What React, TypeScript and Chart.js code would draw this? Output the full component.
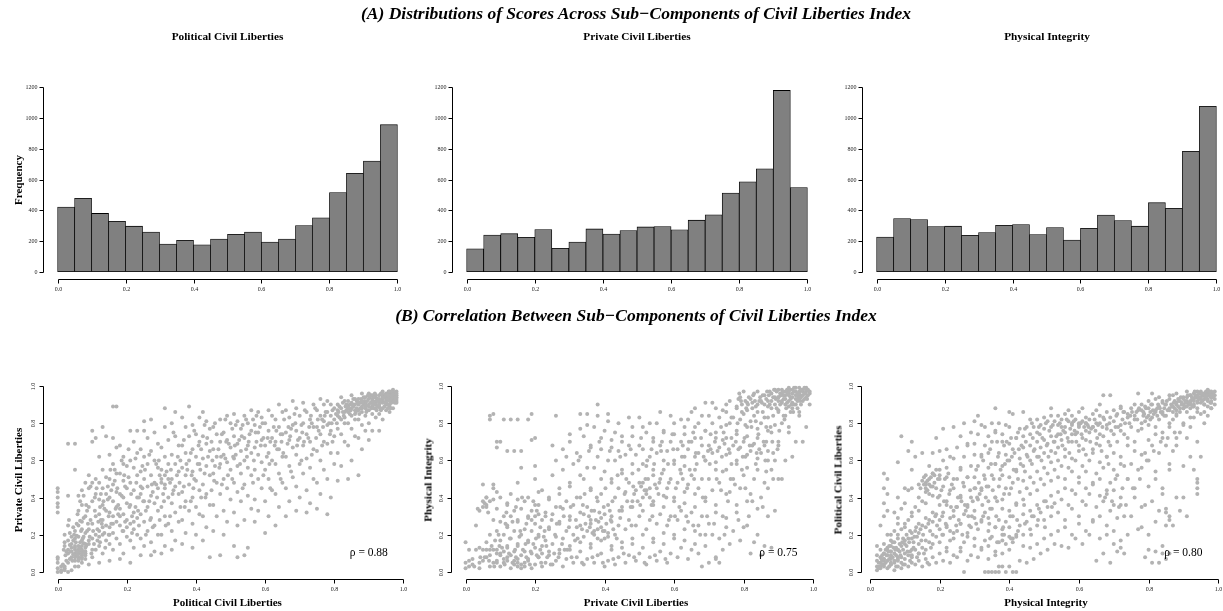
import React, { useEffect, useRef } from "react";
import { Chart, registerables } from "chart.js";
Chart.register(...registerables);

// ---------- DATA ----------
const binCenters = [0.025, 0.075, 0.125, 0.175, 0.225, 0.275, 0.325, 0.375, 0.425, 0.475, 0.525, 0.575, 0.625, 0.675, 0.725, 0.775, 0.825, 0.875, 0.925, 0.975];
const politicalCounts = [420, 477, 379, 328, 296, 258, 180, 204, 175, 212, 243, 258, 193, 212, 300, 350, 515, 640, 720, 957];
const privateCounts = [148, 238, 247, 223, 274, 152, 193, 278, 245, 267, 291, 293, 273, 335, 370, 512, 585, 670, 1180, 547];
const physicalCounts = [225, 346, 339, 293, 296, 236, 254, 302, 306, 241, 287, 206, 282, 368, 333, 296, 449, 412, 784, 1077];

const histYTicks = [0, 200, 400, 600, 800, 1000, 1200];
const histYTickLabels = ["0", "200", "400", "600", "800", "1000", "1200"];
const unitTicks = [0, 0.2, 0.4, 0.6, 0.8, 1.0];
const unitTickLabels = ["0.0", "0.2", "0.4", "0.6", "0.8", "1.0"];

const histTitles = ["Political Civil Liberties", "Private Civil Liberties", "Physical Integrity"];
const scatterXTitles = ["Political Civil Liberties", "Private Civil Liberties", "Physical Integrity"];
const scatterYTitles = ["Private Civil Liberties", "Physical Integrity", "Political Civil Liberties"];
const rhoLabels = ["\u03c1 = 0.88", "\u03c1 = 0.75", "\u03c1 = 0.80"];

// scatter points as (x, y) pairs in hundredths
const politicalVsPrivate = [
  0,0, 1,0, 1,1, 2,1, 0,2, 1,3, 0,5, 0,7, 0,8, 0,32, 0,35, 0,37, 0,40, 0,43, 0,45, 2,2,
  3,0, 4,1, 2,3, 5,3, 3,5, 4,8, 3,10, 5,12, 2,14, 4,15, 3,17, 5,18, 4,19, 2,20, 5,22, 3,25, 3,41, 3,69, 4,13, 2,16, 5,9, 4,11, 3,12, 5,14,
  6,3, 7,5, 5,6, 8,7, 6,8, 7,9, 6,10, 8,11, 7,12, 5,13, 6,14, 8,15, 7,17, 6,19, 8,21, 7,23, 6,25, 7,27, 8,30, 6,33, 7,36, 6,41, 7,44, 8,48, 5,55, 5,69, 7,8, 8,10, 6,12, 7,10, 6,11, 7,14, 8,13, 5,10, 6,7, 7,7, 8,9, 6,6, 5,8, 7,11,
  9,4, 10,8, 8,10, 11,12, 9,15, 10,18, 11,20, 9,23, 10,26, 11,30, 9,35, 10,38, 11,42, 9,45, 10,48, 11,50, 9,52, 10,70, 11,72, 10,76, 9,17, 10,12,
  12,5, 13,10, 12,14, 14,17, 13,20, 12,22, 14,25, 13,28, 12,31, 14,33, 13,36, 12,39, 14,42, 13,45, 12,48, 14,51, 13,55, 12,62, 14,73, 13,78, 13,24, 12,19,
  15,6, 16,12, 15,15, 17,18, 16,21, 15,24, 17,27, 16,30, 15,32, 17,35, 16,38, 15,40, 17,43, 16,47, 15,50, 17,53, 16,58, 15,63, 17,67, 16,72, 16,89, 15,20, 16,26,
  18,7, 19,10, 18,15, 20,19, 19,22, 18,25, 20,28, 19,31, 18,34, 20,37, 19,40, 18,42, 20,45, 19,49, 18,53, 20,57, 19,62, 18,68, 17,89, 19,58, 18,30, 20,24,
  21,5, 22,13, 21,17, 23,20, 22,23, 21,26, 23,29, 22,32, 21,36, 23,40, 22,44, 21,48, 23,52, 22,56, 21,60, 23,64, 22,70, 21,76, 23,76, 22,27,
  24,9, 25,14, 24,18, 26,22, 25,27, 24,31, 26,35, 25,38, 24,42, 26,46, 25,50, 24,54, 26,58, 25,62, 24,66, 26,72, 25,76, 25,81, 24,46,
  27,9, 28,11, 27,16, 29,20, 28,25, 27,29, 29,33, 28,37, 27,41, 29,45, 28,48, 27,52, 29,56, 28,60, 27,65, 29,69, 28,75, 27,82,
  30,10, 31,14, 30,20, 32,26, 31,30, 30,35, 32,40, 31,45, 30,48, 32,50, 31,52, 30,55, 32,58, 31,62, 30,67, 32,71, 31,78, 31,88, 30,50, 31,47,
  33,12, 34,17, 33,22, 35,27, 34,32, 33,37, 35,42, 34,46, 33,50, 35,54, 34,58, 33,63, 35,68, 34,73, 33,80, 34,86,
  36,15, 37,21, 36,28, 38,33, 37,38, 36,43, 38,47, 37,52, 36,56, 38,60, 37,64, 36,68, 38,73, 37,78, 36,83, 38,89,
  39,13, 40,20, 39,26, 41,31, 40,35, 39,40, 41,44, 40,49, 39,54, 41,58, 40,62, 39,66, 41,70, 40,74, 39,79, 41,83,
  42,17, 43,24, 42,30, 44,36, 43,42, 42,47, 44,52, 43,57, 42,61, 44,65, 43,69, 42,73, 44,77, 43,81, 42,86,
  44,8, 45,22, 46,30, 45,36, 47,42, 46,48, 45,53, 47,58, 46,62, 45,66, 47,70, 46,74, 45,78, 47,82,
  47,9, 48,20, 49,27, 48,33, 50,39, 49,45, 48,50, 50,55, 49,59, 48,63, 50,67, 49,71, 48,75, 50,80, 49,84,
  52,8, 51,14, 52,25, 51,32, 53,38, 52,43, 51,48, 53,53, 52,57, 51,61, 53,65, 52,69, 51,73, 53,77, 52,81, 51,85,
  54,9, 55,13, 54,28, 56,34, 55,41, 54,47, 56,52, 55,56, 54,60, 56,64, 55,68, 54,72, 56,76, 55,80, 54,84, 56,87,
  57,27, 58,33, 57,39, 59,45, 58,50, 57,55, 59,59, 58,63, 57,67, 59,71, 58,75, 57,79, 59,83, 58,86,
  60,21, 61,30, 60,38, 62,44, 61,50, 60,55, 62,60, 61,64, 60,68, 62,72, 61,76, 60,80, 62,84, 61,87,
  63,25, 64,35, 63,42, 65,48, 64,53, 63,58, 65,62, 64,66, 63,70, 65,74, 64,78, 63,82, 65,86, 64,90,
  66,30, 67,38, 66,45, 68,51, 67,57, 66,62, 68,67, 67,71, 66,75, 68,79, 67,83, 66,87, 68,92,
  69,33, 70,40, 69,46, 71,53, 70,58, 69,63, 71,68, 70,72, 69,76, 71,80, 70,84, 69,88, 71,91,
  72,32, 73,37, 72,44, 74,50, 73,56, 72,61, 74,66, 73,70, 72,74, 74,78, 73,82, 72,86, 74,90,
  75,34, 76,42, 75,48, 77,55, 76,60, 75,65, 77,70, 76,74, 75,78, 77,81, 76,84, 75,87, 77,90, 76,93,
  78,31, 79,40, 78,50, 80,58, 79,64, 78,69, 80,73, 79,76, 78,79, 80,82, 79,84, 78,86, 80,88, 79,90, 78,92,
  81,49, 82,57, 81,64, 83,70, 82,74, 81,77, 83,80, 82,82, 81,84, 83,86, 82,88, 81,90, 83,92, 82,94, 81,87, 83,83,
  84,50, 85,60, 84,68, 86,73, 85,77, 84,80, 86,82, 85,84, 84,86, 86,87, 85,88, 84,89, 86,90, 85,91, 84,92, 86,93, 85,95, 84,88, 86,85,
  87,52, 88,66, 87,72, 89,76, 88,79, 87,82, 89,84, 88,86, 87,87, 89,88, 88,89, 87,90, 89,91, 88,92, 87,93, 89,94, 88,96, 87,91, 89,89,
  90,71, 91,76, 90,80, 92,83, 91,85, 90,87, 92,88, 91,89, 90,90, 92,91, 91,92, 90,93, 92,94, 91,95, 90,96, 92,90, 91,93,
  93,76, 94,82, 93,85, 95,87, 94,88, 93,89, 95,90, 94,91, 93,92, 95,93, 94,94, 93,95, 95,96, 94,97, 93,90, 95,92, 94,93,
  96,86, 97,88, 96,90, 98,91, 97,92, 96,93, 98,94, 97,95, 96,96, 98,97, 97,98, 96,89, 98,93, 97,96, 96,94, 98,92,
  95,94, 96,95, 97,97, 94,92, 93,91, 96,92, 97,94, 95,95, 98,95, 92,92, 91,91, 93,93, 94,95, 96,97, 95,91, 90,89, 89,90, 88,88, 92,95, 97,93,
];
const politicalVsPrivateMore = [
  1.5,4, 2.5,6, 3.5,7, 4.5,9.5, 5.5,11, 6.5,13, 7.5,15.5, 3.5,14.5, 4.5,17, 5.5,19.5, 2.5,11, 6.5,16, 7.5,19, 8.5,22, 4.5,24, 6.5,27.5, 3.5,21, 5.5,26, 7.5,29, 8.5,33, 9.5,28, 6.5,38, 7.5,41, 9.5,46,
  10.5,15, 11.5,23, 12.5,28, 13.5,34, 14.5,39, 15.5,44, 16.5,49, 17.5,36, 18.5,41, 19.5,46, 20.5,51, 21.5,30, 22.5,35, 23.5,40, 24.5,45, 25.5,33, 26.5,38, 27.5,43, 28.5,47, 29.5,52,
  11.5,17, 13.5,21, 15.5,26, 17.5,31, 19.5,27, 21.5,21, 23.5,25, 25.5,20, 27.5,24, 29.5,28, 12.5,42, 14.5,46, 16.5,55, 18.5,60, 20.5,66, 22.5,61, 24.5,57, 26.5,63, 28.5,58,
  30.5,42, 31.5,54, 32.5,48, 33.5,44, 34.5,52, 35.5,60, 36.5,46, 37.5,55, 38.5,64, 39.5,50, 40.5,58, 41.5,66, 42.5,53, 43.5,62, 44.5,70, 45.5,57, 46.5,66, 47.5,74, 48.5,61, 49.5,69,
  50.5,77, 51.5,63, 52.5,71, 53.5,79, 54.5,66, 55.5,74, 56.5,82, 57.5,70, 58.5,78, 59.5,72, 32.5,30, 35.5,35, 38.5,38, 41.5,40, 44.5,44, 47.5,47, 50.5,50, 53.5,45, 56.5,48, 59.5,52,
  33.5,75, 36.5,71, 39.5,76, 42.5,79, 45.5,80, 48.5,82, 51.5,79, 54.5,82, 57.5,84,
  60.5,62, 61.5,70, 62.5,78, 63.5,66, 64.5,74, 65.5,82, 66.5,69, 67.5,77, 68.5,85, 69.5,71, 70.5,79, 71.5,87, 72.5,72, 73.5,80, 74.5,88, 75.5,76, 76.5,82, 77.5,86, 78.5,80, 79.5,87,
  61.5,45, 64.5,50, 67.5,54, 70.5,60, 73.5,63, 76.5,68, 79.5,70,
  80.5,85, 81.5,89, 82.5,91, 83.5,87, 84.5,90, 85.5,93, 86.5,88, 87.5,91, 88.5,94, 89.5,87, 90.5,91, 91.5,94, 92.5,89, 93.5,92, 94.5,95, 95.5,90, 96.5,93, 97.5,96, 90.5,95, 91.5,88,
  92.5,93, 93.5,96, 94.5,89, 95.5,94, 96.5,97, 97.5,91, 98,96, 89.5,92, 88.5,90, 87.5,88, 86.5,92, 85.5,89, 84.5,85, 83.5,90, 82.5,86, 81.5,83, 93.5,87, 95.5,88, 97.5,94, 96.5,91,
];
const politicalVsPrivateExtra = [
  10.75,33, 11.25,45, 12.75,26, 13.25,38, 14.75,30, 15.25,55, 16.75,34, 17.25,45, 18.75,22, 19.25,52, 20.75,35, 21.25,42, 22.75,48, 23.25,33, 24.75,38, 25.25,55, 26.75,28, 27.25,47, 28.75,40, 29.25,60,
  30.75,38, 31.25,25, 32.75,55, 33.25,42, 34.75,62, 35.25,48, 36.75,35, 37.25,58, 38.75,52, 39.25,45, 40.75,68, 41.25,55, 42.75,40, 43.25,72, 44.75,60, 45.25,49, 46.75,56, 47.25,62, 48.75,70, 49.25,52,
  50.75,62, 51.25,68, 52.75,58, 53.25,73, 54.75,62, 55.25,70, 56.75,60, 57.25,75, 58.75,68, 59.25,80, 60.75,72, 61.25,58, 62.75,68, 63.25,76, 64.75,70, 65.25,64, 66.75,78, 67.25,73, 68.75,80, 69.25,68,
  70.75,75, 71.25,70, 72.75,78, 73.25,84, 74.75,72, 75.25,82, 76.75,78, 77.25,84, 78.75,74, 79.25,80,
  80.75,80, 81.25,86, 82.75,84, 83.25,89, 84.75,87, 85.25,90, 86.75,91, 87.25,85, 88.75,92, 89.25,86, 90.75,88, 91.25,90, 92.75,92, 93.25,88, 94.75,91, 95.25,93, 96.75,95, 97.25,92, 97.75,94, 96.25,88,
  95.75,97, 94.25,94, 93.75,96, 92.25,87, 91.75,96, 90.25,94, 89.75,95, 88.25,91, 87.75,93, 86.25,86,
  1.75,12, 2.25,9, 3.75,11, 4.25,6, 5.75,9, 6.25,13, 7.75,11, 8.25,14, 9.75,10, 4.75,20, 5.25,16, 6.75,22, 7.25,18, 8.75,26, 9.25,19, 10.25,22, 11.75,27, 12.25,16, 13.75,13, 14.75,20,
  3.25,28, 5.75,31, 8.25,36, 10.75,40, 12.25,35,
];

const privateVsPhysical = [
  0,2, 1,3, 0,5, 2,7, 1,12, 0,16, 2,4, 1,6,
  4,2, 5,6, 3,12, 4,13, 3,25, 4,33, 5,35, 6,36, 5,38, 6,40, 5,47, 4,5, 5,12,
  7,3, 8,5, 6,8, 9,10, 7,12, 8,12, 6,16, 7,20, 9,22, 8,28, 6,35, 7,38, 8,39, 6,40, 9,43, 8,47, 7,82, 7,84, 8,85, 9,70, 8,45, 7,9, 9,5, 6,12,
  10,3, 11,5, 9,6, 12,8, 10,10, 11,11, 9,12, 12,14, 10,17, 11,20, 12,24, 10,27, 11,30, 9,34, 12,37, 10,40, 10,70, 9,67, 11,82, 11,7, 10,9,
  13,2, 14,4, 12,6, 15,7, 13,9, 14,11, 12,13, 15,15, 13,18, 14,22, 12,25, 15,28, 13,30, 14,33, 12,36, 15,39, 13,42, 12,65, 14,65, 13,82, 14,6, 15,3,
  16,2, 17,3, 15,5, 18,7, 16,9, 17,11, 15,14, 18,17, 16,20, 17,23, 15,27, 18,30, 16,34, 17,38, 15,48, 16,56, 16,65, 15,82, 17,5, 16,4,
  19,2, 20,4, 18,6, 21,8, 19,10, 20,13, 18,16, 21,19, 19,22, 20,26, 18,29, 21,31, 19,33, 20,36, 18,40, 21,43, 20,50, 20,57, 19,71, 20,72, 18,82, 19,85, 20,30, 19,28,
  22,3, 23,5, 21,8, 24,11, 22,14, 23,17, 21,20, 24,24, 22,28, 23,32, 21,36, 24,40, 22,44, 23,30, 22,10,
  25,4, 26,6, 24,9, 27,12, 25,15, 26,19, 24,23, 27,27, 25,31, 26,35, 24,39, 27,45, 25,52, 26,60, 25,68, 26,84,
  28,3, 29,7, 27,10, 30,14, 28,18, 29,22, 27,26, 30,30, 28,34, 29,38, 27,42, 30,48, 28,55, 29,62, 28,66, 30,74,
  31,5, 32,8, 30,12, 33,16, 31,20, 32,24, 30,28, 33,32, 31,36, 32,40, 30,46, 33,52, 31,58, 32,64, 30,70, 33,77, 33,85,
  34,4, 35,7, 33,11, 36,15, 34,19, 35,22, 33,25, 36,28, 34,31, 35,35, 33,40, 36,45, 34,50, 35,56, 33,62, 36,68, 34,73, 35,79, 35,85,
  37,5, 38,9, 36,13, 39,17, 37,20, 38,23, 36,26, 39,29, 37,33, 38,38, 36,44, 39,50, 37,56, 38,62, 36,67, 39,72, 37,78, 38,84, 38,90, 37,22, 38,18,
  40,3, 41,6, 39,10, 42,14, 40,18, 41,21, 39,24, 42,27, 40,31, 41,36, 39,42, 42,48, 40,54, 41,60, 39,66, 42,71, 40,76, 41,81, 41,85, 40,22, 41,19,
  43,4, 44,8, 42,12, 45,16, 43,20, 44,25, 42,30, 45,35, 43,40, 44,45, 42,50, 45,55, 43,60, 44,65, 42,67, 45,70, 43,75, 44,80,
  46,5, 47,9, 45,13, 48,18, 46,23, 47,28, 45,33, 48,38, 46,43, 47,48, 45,53, 48,58, 46,63, 47,68, 45,73, 48,78, 47,83,
  49,6, 50,10, 48,15, 51,20, 49,25, 50,30, 48,35, 51,40, 49,44, 50,48, 48,53, 51,58, 49,63, 50,68, 48,73, 51,78, 50,83,
  52,4, 53,8, 51,13, 54,18, 52,23, 53,28, 51,33, 54,38, 52,42, 53,45, 51,48, 54,52, 52,57, 53,62, 51,66, 54,70, 52,75, 53,80, 52,44, 53,40,
  55,6, 56,11, 54,16, 57,21, 55,26, 56,31, 54,36, 57,41, 55,45, 56,50, 54,55, 57,60, 55,64, 56,68, 54,72, 57,76, 55,80, 56,86,
  58,5, 59,10, 57,15, 60,20, 58,25, 59,30, 57,35, 60,40, 58,45, 59,50, 57,55, 60,60, 58,65, 59,70, 57,75, 60,80, 59,84,
  61,8, 62,13, 60,18, 63,23, 61,28, 62,33, 60,38, 63,43, 61,48, 62,53, 60,58, 63,62, 61,66, 62,70, 60,74, 63,78, 62,82,
  64,7, 65,12, 63,17, 66,22, 64,27, 65,32, 63,37, 66,42, 64,47, 65,52, 63,57, 66,62, 64,66, 65,70, 63,74, 66,78, 64,82, 65,86,
  68,3, 67,10, 66,15, 69,20, 67,25, 68,30, 66,35, 69,40, 67,45, 68,50, 66,55, 69,60, 67,64, 68,68, 66,72, 69,76, 67,80, 68,84, 66,88, 69,91,
  70,5, 72,8, 69,14, 71,20, 70,26, 72,32, 69,38, 71,44, 70,50, 72,55, 69,60, 71,64, 70,68, 72,72, 69,76, 71,80, 70,84, 72,88, 71,91,
  73,5, 72,7, 74,12, 73,18, 75,24, 74,30, 72,36, 75,42, 73,48, 74,54, 72,59, 75,63, 73,67, 74,71, 72,75, 75,79, 73,83, 74,87, 75,90,
  76,15, 77,22, 75,29, 78,36, 76,43, 77,50, 75,55, 78,60, 76,64, 77,68, 75,72, 78,76, 76,80, 77,83, 75,86, 78,89, 76,92,
  79,17, 80,24, 78,32, 81,38, 79,45, 80,52, 78,58, 81,63, 79,67, 80,70, 78,74, 81,78, 79,82, 80,85, 78,88, 81,91, 79,94, 80,97,
  82,10, 83,16, 81,25, 84,34, 82,42, 83,50, 81,56, 84,61, 82,65, 83,69, 81,73, 84,77, 82,81, 83,84, 81,87, 84,90, 82,93, 83,96,
  85,9, 86,14, 84,20, 87,30, 85,40, 86,48, 84,55, 87,60, 85,64, 86,68, 84,72, 87,76, 85,80, 86,83, 84,86, 87,89, 85,92, 86,95, 84,97,
  88,13, 89,33, 87,45, 90,50, 88,55, 89,60, 87,65, 90,70, 88,75, 89,79, 87,83, 90,86, 88,88, 89,90, 87,92, 90,94, 88,96, 89,98,
  91,50, 92,60, 90,68, 93,75, 91,80, 92,84, 90,87, 93,89, 91,91, 92,93, 90,94, 93,95, 91,96, 92,97, 90,98, 93,99,
  94,62, 95,70, 93,78, 96,84, 94,88, 95,90, 93,92, 96,93, 94,94, 95,95, 93,96, 96,97, 94,98, 95,99,
  97,70, 98,78, 96,86, 99,90, 97,92, 98,94, 96,95, 99,96, 97,97, 98,98, 96,99, 99,97,
  91,92, 92,95, 93,97, 94,96, 95,97, 96,96, 97,98, 98,97, 95,93, 94,91, 92,90, 90,92, 89,94, 91,98, 97,95, 98,99, 88,92, 86,90,
];
const privateVsPhysicalMore = [
  2.5,3, 5.5,8, 7.5,14, 10.5,13, 12.5,10, 13.5,5, 14.5,8, 16.5,12, 17.5,8, 18.5,4, 19.5,15, 20.5,9, 21.5,24, 22.5,19, 11.5,26, 13.5,27, 15.5,19, 17.5,26, 19.5,38, 20.5,33,
  14.5,35, 6.5,32, 5.5,37, 3.5,34, 8.5,17, 9.5,20, 21.5,12, 23.5,8, 25.5,10, 24.5,4,
  31.5,17, 34.5,26, 36.5,21, 37.5,28, 39.5,22, 40.5,26, 42.5,23, 43.5,18, 38.5,32, 35.5,30, 33.5,23, 41.5,33, 44.5,29, 46.5,38, 48.5,42, 50.5,46, 52.5,50, 54.5,47, 55.5,42, 51.5,44,
  53.5,36, 49.5,38, 47.5,35, 56.5,53, 58.5,48, 60.5,45, 62.5,50, 64.5,55, 66.5,58, 68.5,62, 70.5,66, 58.5,28, 61.5,35, 63.5,30, 65.5,25, 67.5,20, 69.5,30,
  32.5,60, 35.5,65, 38.5,70, 41.5,65, 44.5,62, 47.5,66, 50.5,72, 53.5,66, 56.5,70, 59.5,74, 62.5,68, 65.5,75,
  28.5,12, 30.5,8, 33.5,5, 36.5,8, 39.5,5, 42.5,7, 45.5,10, 48.5,8, 51.5,5, 54.5,9, 57.5,7,
  72.5,65, 74.5,69, 76.5,72, 78.5,66, 80.5,62, 82.5,68, 84.5,66, 86.5,70, 88.5,64, 76.5,58, 79.5,55, 83.5,58, 86.5,54, 88.5,50, 77.5,47, 80.5,45, 82.5,38, 85.5,35, 73.5,44, 75.5,38,
  78.5,28, 81.5,30, 71.5,26, 74.5,20, 70.5,74, 73.5,78, 76.5,83, 79.5,86, 82.5,88, 85.5,86, 88.5,84, 80.5,79, 83.5,81, 86.5,78,
  89.5,88, 90.5,90, 91.5,93, 92.5,91, 93.5,94, 94.5,97, 95.5,96, 96.5,98, 97.5,99, 98.5,98, 92.5,98, 93.5,93, 94.5,90, 95.5,92, 96.5,94, 97.5,96, 98.5,95, 91.5,95, 90.5,96, 89.5,97,
  88.5,94, 87.5,90, 86.5,93, 85.5,95, 84.5,92, 83.5,89, 82.5,91, 81.5,94, 80.5,92, 79.5,90, 78.5,93, 87.5,97, 94.5,99, 97.5,93, 96.5,90, 95.5,88, 93.5,86, 91.5,84,
];
const privateVsPhysicalExtra = [
  25.75,20, 26.25,26, 27.75,15, 28.25,30, 29.75,24, 30.25,35, 31.75,28, 32.25,18, 33.75,36, 34.25,42, 35.75,24, 36.25,33, 37.75,40, 38.25,27, 39.75,35, 40.25,45, 41.75,28, 42.25,38, 43.75,52, 44.25,33,
  45.75,42, 46.25,50, 47.75,25, 48.25,46, 49.75,55, 50.25,36, 51.75,50, 52.25,60, 53.75,30, 54.25,58, 55.75,48, 56.25,65, 57.75,40, 58.25,58, 59.75,66, 60.25,30, 61.75,55, 62.25,62, 63.75,45, 64.25,70,
  65.75,50, 66.25,64, 67.75,72, 68.25,40, 69.75,65, 70.25,58, 71.75,70, 72.25,50, 73.75,62, 74.25,75, 75.75,66, 76.25,50, 77.75,70, 78.25,80, 79.75,62, 80.25,72, 81.75,68, 82.25,78, 83.75,64, 84.25,74,
  85.75,70, 86.25,60, 87.75,78, 88.25,70, 89.75,66, 90.25,76, 91.75,82, 92.25,88, 93.75,90, 94.25,86, 95.75,94, 96.25,92, 97.75,96, 98.25,93, 93.25,98, 92.75,96, 91.25,97, 90.75,95, 89.25,93, 88.75,98,
  87.25,95, 86.75,97, 85.25,91, 84.75,94, 83.25,92, 82.75,95, 81.25,90, 80.75,88, 79.25,92, 78.75,96,
  4.25,8, 6.75,6, 8.25,3, 9.75,14, 11.25,4, 12.75,18, 14.25,12, 15.75,22, 17.25,15, 18.75,11, 20.25,18, 21.75,5, 22.75,22, 23.25,14, 24.75,28, 26.75,8, 27.25,35, 29.25,12, 11.75,32, 16.25,40,
];

const physicalVsPolitical = [
  2,1, 3,2, 2,3, 4,4, 3,5, 2,6, 4,7, 3,8, 2,9, 4,10, 3,12, 2,14, 3,25, 3,3, 4,6,
  5,2, 4,3, 6,5, 5,6, 4,7, 6,8, 5,9, 4,10, 6,11, 5,13, 4,15, 6,17, 5,20, 4,30, 5,33, 4,37, 5,42, 4,45, 5,50, 4,53, 6,4, 5,12, 6,7,
  7,1, 8,3, 6,4, 7,6, 8,8, 6,9, 7,10, 8,12, 6,14, 7,16, 8,18, 6,20, 7,22, 8,26, 7,32, 8,40, 8,59, 7,5, 6,11, 8,7,
  9,2, 10,4, 8,6, 9,8, 10,10, 8,12, 9,14, 10,17, 8,20, 9,23, 10,26, 8,29, 9,34, 10,45, 9,73, 9,5,
  11,3, 12,5, 10,7, 11,9, 12,12, 10,15, 11,18, 12,21, 10,24, 11,28, 12,32, 10,37, 11,44, 12,55, 11,65, 12,8,
  13,4, 14,6, 12,9, 13,12, 14,15, 12,18, 13,22, 14,26, 12,30, 13,35, 14,40, 12,45, 13,62, 12,70, 14,10,
  15,3, 16,7, 14,10, 15,13, 16,17, 14,21, 15,25, 16,29, 14,33, 15,38, 16,43, 14,47, 15,49, 16,52, 15,64, 16,47,
  17,4, 18,8, 16,12, 17,16, 18,20, 16,24, 17,28, 18,32, 16,37, 17,42, 18,46, 16,48, 17,50, 18,53, 17,57, 18,64, 17,47, 16,45,
  19,5, 20,10, 18,15, 19,19, 20,23, 18,27, 19,31, 20,36, 18,41, 19,45, 20,50, 18,53, 19,55, 20,65, 19,72, 20,52,
  21,6, 22,11, 20,16, 21,20, 22,24, 20,28, 21,32, 22,36, 20,41, 21,46, 22,51, 20,55, 21,60, 22,66, 21,77,
  23,5, 24,9, 22,13, 23,17, 24,21, 22,25, 23,29, 24,33, 22,38, 23,44, 24,50, 22,56, 23,62, 24,78, 23,22,
  25,8, 26,13, 24,18, 25,22, 26,26, 24,30, 25,35, 26,40, 24,45, 25,50, 26,55, 24,61, 25,67, 26,73,
  27,0, 28,6, 26,11, 27,16, 28,21, 26,26, 27,31, 28,36, 26,41, 27,46, 28,51, 26,56, 27,62, 28,68, 27,80,
  29,9, 30,14, 28,19, 29,24, 30,29, 28,35, 29,40, 30,45, 28,51, 29,57, 30,63, 28,69, 29,75, 30,81,
  31,8, 32,13, 30,18, 31,23, 32,28, 30,33, 31,39, 32,45, 30,51, 31,57, 32,63, 30,69, 31,74, 32,79, 31,84,
  33,0, 34,7, 32,12, 33,17, 34,22, 32,27, 33,32, 34,38, 32,44, 33,50, 34,56, 32,62, 33,68, 34,73, 33,78, 34,0,
  35,0, 36,9, 34,14, 35,19, 36,24, 34,29, 35,34, 36,40, 34,46, 35,52, 36,58, 34,64, 35,70, 36,75, 35,80, 36,88, 36,0,
  37,0, 38,3, 36,11, 37,16, 38,20, 36,24, 37,28, 38,34, 36,40, 37,46, 38,52, 36,58, 37,64, 38,70, 36,76, 37,80, 37,3,
  39,0, 40,3, 38,10, 39,15, 40,19, 38,23, 39,27, 40,33, 38,39, 39,45, 40,51, 38,57, 39,63, 40,69, 38,74, 39,79, 40,86, 38,17,
  41,0, 42,0, 40,12, 41,16, 42,20, 40,24, 41,30, 42,36, 40,42, 41,48, 42,54, 40,60, 41,66, 42,72, 40,78, 41,85, 41,18,
  43,6, 44,14, 42,19, 43,25, 44,31, 42,37, 43,43, 44,49, 42,55, 43,61, 44,67, 42,72, 43,77, 44,86,
  45,5, 46,13, 44,20, 45,27, 46,33, 44,39, 45,45, 46,51, 44,57, 45,63, 46,68, 44,73, 45,78, 46,82,
  47,7, 48,15, 46,23, 47,30, 48,36, 46,42, 47,48, 48,54, 46,60, 47,65, 48,70, 46,74, 47,78, 48,82,
  49,10, 50,18, 48,25, 49,32, 50,38, 48,44, 49,50, 50,56, 48,62, 49,67, 50,71, 48,75, 49,79, 50,83,
  51,12, 52,20, 50,28, 51,35, 52,41, 50,47, 51,53, 52,59, 50,64, 51,69, 52,73, 50,77, 51,81, 52,84, 52,88,
  53,15, 54,22, 52,30, 53,37, 54,43, 52,49, 53,55, 54,60, 52,65, 53,70, 54,74, 52,78, 53,81, 54,84,
  55,14, 56,24, 54,32, 55,39, 56,45, 54,51, 55,57, 56,62, 54,67, 55,71, 56,75, 54,79, 55,82, 56,85, 55,78,
  57,13, 58,20, 56,28, 57,36, 58,44, 56,50, 57,56, 58,61, 56,66, 57,70, 58,74, 56,78, 57,81, 58,84, 57,87, 58,79,
  59,18, 60,26, 58,34, 59,42, 60,48, 58,54, 59,60, 60,65, 58,70, 59,74, 60,78, 58,80, 59,82, 60,86, 60,80,
  61,15, 62,22, 60,30, 61,38, 62,45, 60,51, 61,57, 62,63, 60,68, 61,72, 62,76, 60,79, 61,81, 62,83, 61,88, 62,80,
  63,20, 64,28, 62,36, 63,42, 64,48, 62,54, 63,60, 64,66, 62,71, 63,75, 64,78, 62,80, 63,82, 64,85,
  65,6, 66,18, 64,27, 65,35, 66,41, 64,47, 65,53, 66,59, 64,64, 65,69, 66,74, 64,78, 65,80, 66,84, 65,87, 66,90,
  67,10, 68,20, 66,30, 67,38, 68,44, 66,50, 67,56, 68,62, 66,68, 67,73, 68,77, 66,80, 67,83, 68,86, 67,95,
  69,5, 70,15, 68,25, 69,33, 70,36, 68,42, 69,48, 70,55, 68,62, 69,68, 70,74, 68,79, 69,83, 70,87, 69,95,
  71,11, 72,17, 70,22, 71,29, 72,36, 70,44, 71,52, 72,58, 70,64, 71,70, 72,76, 70,81, 71,85, 72,89,
  73,10, 72,13, 74,20, 73,30, 72,40, 74,50, 73,57, 72,62, 74,68, 73,74, 72,79, 74,83, 73,86, 72,88,
  75,30, 76,40, 74,50, 75,58, 76,65, 74,72, 75,78, 76,82, 74,85, 75,88, 76,90,
  77,23, 78,35, 76,45, 77,55, 78,63, 76,70, 77,76, 78,80, 76,84, 77,87, 78,90, 77,96,
  79,8, 80,12, 78,24, 79,36, 80,46, 78,56, 79,64, 80,71, 78,77, 79,81, 80,84, 78,87, 79,89, 80,92,
  81,5, 82,11, 80,20, 81,38, 82,50, 80,60, 81,68, 82,74, 80,79, 81,83, 82,86, 80,88, 81,90, 82,93, 81,96,
  83,5, 84,10, 82,27, 83,33, 84,42, 82,54, 83,64, 84,72, 82,78, 83,82, 84,85, 82,87, 83,89, 84,91, 83,94,
  85,7, 86,10, 84,14, 85,25, 86,30, 85,34, 84,45, 86,58, 85,68, 84,75, 86,80, 85,84, 84,86, 86,88, 85,90, 84,92, 86,95, 85,32, 86,28,
  87,25, 88,40, 86,55, 87,65, 88,72, 86,78, 87,82, 88,85, 86,87, 87,89, 88,91, 86,93, 87,95,
  89,33, 90,57, 88,68, 89,75, 90,80, 88,84, 89,86, 90,88, 88,90, 89,92, 90,94, 88,96,
  91,30, 90,40, 92,62, 91,72, 90,79, 92,83, 91,86, 90,88, 92,90, 91,92, 90,93, 92,95, 91,97,
  93,55, 94,70, 92,78, 93,83, 94,86, 92,88, 93,90, 94,91, 92,92, 93,93, 94,94, 92,95, 93,96, 94,97,
  94,42, 94,45, 94,48, 94,50, 95,62, 96,80, 95,85, 94,88, 96,90, 95,91, 94,92, 96,93, 95,94, 94,95, 96,96, 95,97,
  97,84, 96,86, 98,88, 97,89, 96,90, 98,91, 97,92, 96,93, 98,94, 97,95, 96,96, 98,97, 97,98,
  98,88, 99,90, 98,92, 99,93, 98,94, 99,95, 98,96, 99,97,
  90,90, 91,89, 89,88, 88,87, 87,86, 92,91, 93,92, 95,93, 96,95, 97,96, 93,89, 91,94, 95,96, 97,93,
];
const physicalVsPoliticalMore = [
  2.5,2, 3.5,4, 4.5,5, 5.5,7, 6.5,8, 7.5,9, 8.5,11, 9.5,12, 10.5,14, 11.5,11, 12.5,13, 3.5,9, 4.5,12, 5.5,14, 6.5,16, 7.5,13, 8.5,15, 9.5,18, 10.5,20, 11.5,22,
  12.5,16, 13.5,19, 14.5,23, 2.5,5, 3.5,6, 5.5,3, 7.5,3, 9.5,4, 11.5,6, 13.5,8, 15.5,10, 16.5,5, 17.5,13,
  14.5,45, 15.5,47, 16.5,49, 17.5,51, 18.5,48, 19.5,50, 15.5,51, 16.5,44, 17.5,46, 18.5,52, 21.5,50, 22.5,53, 19.5,40, 20.5,44, 23.5,47,
  25.5,28, 27.5,33, 29.5,38, 31.5,42, 33.5,46, 35.5,50, 37.5,55, 39.5,60, 41.5,64, 43.5,68, 26.5,20, 28.5,25, 30.5,26, 32.5,30, 34.5,34, 36.5,38, 38.5,42, 40.5,45, 42.5,50, 44.5,54,
  46.5,58, 48.5,62, 34.5,18, 36.5,16, 38.5,20, 40.5,18, 42.5,22, 44.5,26, 46.5,30, 48.5,34, 50.5,38, 30.5,55, 32.5,60, 34.5,66, 36.5,70, 38.5,68, 40.5,72, 42.5,75, 44.5,77, 46.5,80,
  48.5,78, 50.5,80, 52.5,79, 54.5,80, 56.5,82, 58.5,81, 60.5,80, 62.5,79, 64.5,82, 49.5,72, 51.5,76, 53.5,73, 55.5,76, 57.5,77, 59.5,75, 61.5,78, 63.5,77, 65.5,79,
  66.5,65, 68.5,58, 70.5,50, 72.5,45, 67.5,40, 69.5,38, 71.5,35, 73.5,36, 75.5,45, 77.5,50, 79.5,60, 81.5,65, 83.5,70, 85.5,72, 87.5,75, 68.5,70, 70.5,78, 72.5,82, 74.5,80, 76.5,86,
  78.5,84, 80.5,86, 82.5,88,
  84.5,88, 85.5,87, 86.5,90, 87.5,88, 88.5,89, 89.5,91, 90.5,92, 91.5,90, 92.5,93, 93.5,94, 94.5,93, 95.5,95, 96.5,94, 97.5,95, 98.5,96, 87.5,92, 88.5,93, 89.5,90, 90.5,89, 91.5,91,
  92.5,94, 93.5,95, 94.5,96, 95.5,92, 96.5,97, 97.5,97, 98.5,94, 82.5,84, 83.5,86, 84.5,84, 80.5,82, 81.5,85, 79.5,83, 78.5,86,
];
const physicalVsPoliticalExtra = [
  20.75,30, 21.25,38, 22.75,42, 23.25,35, 24.75,25, 25.25,40, 26.75,48, 27.25,36, 28.75,44, 29.25,30, 30.75,40, 31.25,48, 32.75,52, 33.25,40, 34.75,58, 35.25,44, 36.75,62, 37.25,50, 38.75,58, 39.25,70,
  40.75,62, 41.25,55, 42.75,66, 43.25,58, 44.75,70, 45.25,62, 46.75,72, 47.25,66, 48.75,74, 49.25,60, 50.75,68, 51.25,62, 52.75,70, 53.25,64, 54.75,74, 55.25,68, 56.75,72, 57.25,64, 58.75,76, 59.25,70,
  60.75,74, 61.25,66, 62.75,78, 63.25,70, 64.75,76, 65.25,72, 66.75,78, 67.25,82, 68.75,80, 69.25,76, 70.75,84, 71.25,78, 72.75,86, 73.25,80, 74.75,84, 75.25,86, 76.75,82, 77.25,88, 78.75,85, 79.25,88,
  80.75,90, 81.25,87, 82.75,90, 83.25,88, 84.75,90, 85.25,92, 86.75,89, 87.25,91, 88.75,92, 89.25,94, 90.75,91, 91.25,95, 92.75,89, 93.25,97, 94.75,94, 95.25,96, 96.75,95, 97.25,97, 98.25,95, 97.75,91,
  2.75,3, 3.25,7, 4.75,9, 5.25,11, 6.75,13, 7.25,12, 8.75,9, 9.25,16, 10.75,11, 11.25,16, 12.75,19, 13.25,24, 14.75,17, 15.25,20, 16.75,26, 17.25,22, 18.75,30, 19.25,25, 20.75,20, 21.75,26,
  24.75,35, 26.25,38, 28.25,30, 30.25,45, 32.25,36, 34.25,26, 36.25,30, 38.25,24, 40.25,30, 42.25,28, 44.25,36, 46.25,20, 48.25,28, 50.25,24, 52.25,35,
];

// ---------- LAYOUT (page pixels) ----------
const W = 1223;
const H = 611;
const SERIF = '"Liberation Serif", "Times New Roman", serif';

const histAreas = [
  { l: 44, r: 411, t: 80, b: 279, xmax: 1.04 },
  { l: 453, r: 821, t: 80, b: 279, xmax: 1.04 },
  { l: 863, r: 1223, t: 80, b: 279, xmax: 1.0195 },
];
const scatterAreas = [
  { l: 44, r: 411, t: 381, b: 579, xmin: -0.0396, xmax: 1.022 },
  { l: 452, r: 820, t: 381, b: 579, xmin: -0.039, xmax: 1.0197 },
  { l: 862, r: 1223, t: 381, b: 579, xmin: -0.023, xmax: 1.008 },
];

function toPoints(flat: number[]) {
  const out: { x: number; y: number }[] = [];
  for (let i = 0; i + 1 < flat.length; i += 2) out.push({ x: flat[i] / 100, y: flat[i + 1] / 100 });
  return out;
}

type AxisOpts = {
  xTicks: number[];
  xLabels: string[];
  yTicks: number[];
  yLabels: string[];
  yRotated: boolean;
  note?: { x: number; y: number; text: string };
};

function rAxes(o: AxisOpts) {
  return {
    id: "rAxes",
    afterDatasetsDraw(chart: any) {
      const { ctx, chartArea: a, scales } = chart;
      const xs = scales.x;
      const ys = scales.y;
      ctx.save();
      ctx.strokeStyle = "#000";
      ctx.lineWidth = 1;
      ctx.fillStyle = "#222";
      ctx.font = `6px ${SERIF}`;
      ctx.textBaseline = "middle";
      const yb = Math.round(a.bottom) + 0.5;
      const px = o.xTicks.map((t) => Math.round(xs.getPixelForValue(t)) + 0.5);
      ctx.beginPath();
      ctx.moveTo(px[0], yb);
      ctx.lineTo(px[px.length - 1], yb);
      px.forEach((p) => {
        ctx.moveTo(p, yb);
        ctx.lineTo(p, yb + 4);
      });
      ctx.stroke();
      ctx.textAlign = "center";
      px.forEach((p, i) => ctx.fillText(o.xLabels[i], p, yb + 10));
      const xl = Math.round(a.left) - 0.5;
      const py = o.yTicks.map((t) => Math.round(ys.getPixelForValue(t)) + 0.5);
      ctx.beginPath();
      ctx.moveTo(xl, py[0]);
      ctx.lineTo(xl, py[py.length - 1]);
      py.forEach((p) => {
        ctx.moveTo(xl, p);
        ctx.lineTo(xl - 4, p);
      });
      ctx.stroke();
      py.forEach((p, i) => {
        if (o.yRotated) {
          ctx.save();
          ctx.translate(xl - 10, p);
          ctx.rotate(-Math.PI / 2);
          ctx.textAlign = "center";
          ctx.fillText(o.yLabels[i], 0, 0);
          ctx.restore();
        } else {
          ctx.textAlign = "right";
          ctx.fillText(o.yLabels[i], xl - 6, p);
        }
      });
      if (o.note) {
        ctx.font = `11.5px ${SERIF}`;
        ctx.fillStyle = "#000";
        ctx.textAlign = "center";
        ctx.fillText(o.note.text, xs.getPixelForValue(o.note.x), ys.getPixelForValue(o.note.y));
      }
      ctx.restore();
    },
  };
}

function histConfig(i: number, counts: number[]): any {
  const a = histAreas[i];
  return {
    type: "bar",
    data: {
      datasets: [
        {
          data: binCenters.map((c, k) => ({ x: c, y: counts[k] })),
          backgroundColor: "#808080",
          borderColor: "#000000",
          borderWidth: 0.8,
          borderSkipped: false,
          barPercentage: 1,
          categoryPercentage: 1,
        },
      ],
    },
    options: {
      animation: false,
      responsive: false,
      events: [],
      layout: { padding: { left: a.l, right: W - a.r, top: a.t, bottom: H - a.b } },
      plugins: { legend: { display: false }, tooltip: { enabled: false }, title: { display: false } },
      scales: {
        x: {
          type: "linear",
          min: -0.04,
          max: a.xmax,
          offset: false,
          grid: { offset: false },
          display: false,
          ticks: { includeBounds: false, stepSize: 0.2 },
        },
        y: { type: "linear", min: -48, max: 1248, display: false, ticks: { includeBounds: false } },
      },
    },
    plugins: [
      rAxes({ xTicks: unitTicks, xLabels: unitTickLabels, yTicks: histYTicks, yLabels: histYTickLabels, yRotated: false }),
    ],
  };
}

function scatterConfig(i: number, flat: number[]): any {
  const a = scatterAreas[i];
  return {
    type: "scatter",
    data: {
      datasets: [
        {
          data: toPoints(flat),
          backgroundColor: "#b3b3b3",
          borderWidth: 0,
          pointRadius: 2,
          pointHoverRadius: 0,
        },
      ],
    },
    options: {
      animation: false,
      responsive: false,
      events: [],
      layout: { padding: { left: a.l, right: W - a.r, top: a.t, bottom: H - a.b } },
      plugins: { legend: { display: false }, tooltip: { enabled: false } },
      scales: {
        x: { type: "linear", min: a.xmin, max: a.xmax, display: false },
        y: { type: "linear", min: -0.0376, max: 1.0269, display: false },
      },
    },
    plugins: [
      rAxes({
        xTicks: unitTicks,
        xLabels: unitTickLabels,
        yTicks: unitTicks,
        yLabels: unitTickLabels,
        yRotated: true,
        note: { x: 0.9, y: 0.1, text: rhoLabels[i] },
      }),
    ],
  };
}

function ChartCanvas({ make }: { make: () => any }) {
  const ref = useRef<HTMLCanvasElement>(null);
  useEffect(() => {
    const chart = new Chart(ref.current as HTMLCanvasElement, make());
    return () => chart.destroy();
  }, []);
  return <canvas ref={ref} width={W} height={H} style={{ position: "absolute", left: 0, top: 0, width: W, height: H }} />;
}

function Label({ x, y, text, size, italic, bold = true, rotate }: { x: number; y: number; text: string; size: number; italic?: boolean; bold?: boolean; rotate?: boolean }) {
  return (
    <div
      style={{
        position: "absolute",
        left: x,
        top: y,
        transform: `translate(-50%, -50%)${rotate ? " rotate(-90deg)" : ""}`,
        whiteSpace: "nowrap",
        fontFamily: SERIF,
        fontSize: size,
        fontWeight: bold ? "bold" : "normal",
        fontStyle: italic ? "italic" : "normal",
        color: "#000",
        lineHeight: 1,
      }}
    >
      {text}
    </div>
  );
}

export default function App() {
  const histCounts = [politicalCounts, privateCounts, physicalCounts];
  const scatterData = [
    politicalVsPrivate.concat(politicalVsPrivateMore, politicalVsPrivateExtra),
    privateVsPhysical.concat(privateVsPhysicalMore, privateVsPhysicalExtra),
    physicalVsPolitical.concat(physicalVsPoliticalMore, physicalVsPoliticalExtra),
  ];
  const histCenters = [227.5, 637, 1047];
  const scatterCenters = [227.5, 636, 1046];
  const yTitleX = [18, 428, 838];
  return (
    <div style={{ position: "fixed", left: 0, top: 0, width: W, height: H, background: "#fff", overflow: "hidden" }}>
      {histCounts.map((c, i) => (
        <ChartCanvas key={"h" + i} make={() => histConfig(i, c)} />
      ))}
      {scatterData.map((d, i) => (
        <ChartCanvas key={"s" + i} make={() => scatterConfig(i, d)} />
      ))}
      <Label x={636} y={14} size={17.5} italic text={"(A) Distributions of Scores Across Sub\u2212Components of Civil Liberties Index"} />
      <Label x={636} y={316} size={17.5} italic text={"(B) Correlation Between Sub\u2212Components of Civil Liberties Index"} />
      {histTitles.map((t, i) => (
        <Label key={"ht" + i} x={histCenters[i]} y={37} size={11.3} text={t} />
      ))}
      <Label x={18} y={179.5} size={11} rotate text="Frequency" />
      {scatterXTitles.map((t, i) => (
        <Label key={"sx" + i} x={scatterCenters[i]} y={602} size={11} text={t} />
      ))}
      {scatterYTitles.map((t, i) => (
        <Label key={"sy" + i} x={yTitleX[i]} y={480} size={11} rotate text={t} />
      ))}
    </div>
  );
}
